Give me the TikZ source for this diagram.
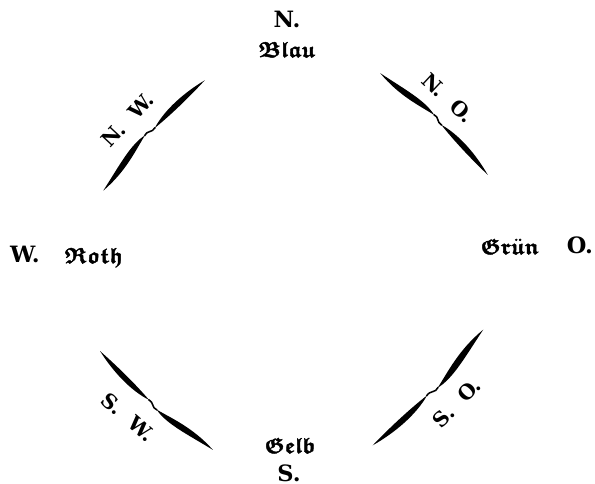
\documentclass[tikz,border=0pt]{standalone}
\usepackage{unicode-math}
\setmainfont{DejaVu Serif}
\setmathfont{latinmodern-math.otf}
\setmathfont{latinmodern-math.otf}[version=heavy,FakeBold=2]
\newcommand{\frk}[1]{$\symbffrak{#1}$}

\begin{document}
\begin{tikzpicture}[x=0.025cm,y=0.025cm,
	cardinal/.style={font=\bfseries\fontsize{16}{19}\selectfont,inner sep=0pt,anchor=base},
	farbe/.style={font=\fontsize{15.5}{19}\selectfont\mathversion{heavy},inner sep=0pt,anchor=base},
	wind/.style={font=\bfseries\fontsize{14.5}{17}\selectfont,inner sep=0pt},
	wing/.pic={
		\fill (-1,0) .. controls (-0.6,0.07) and (-0.3,0.15) .. (-0.08,0.09) .. controls (-0.3,0.05) and (-0.6,-0.05) .. (-1,0);
		\draw[line width=1.1pt] (-0.09,0.09) .. controls (-0.01,0.12) and (0.0,0.04) .. (0.09,0.06);
		\fill (0.08,0.06) .. controls (0.35,0.13) and (0.7,0.09) .. (1,0) .. controls (0.7,0.0) and (0.35,0.02) .. (0.08,0.06);
	}]
	\useasboundingbox (0,0) rectangle (595,484);
	\foreach \n/\x/\y/\a/\s in {nw/154/348.5/47.4/75,no/434/360/-43.4/74,sw/156.5/83.5/138.8/75,so/428/96.5/226.3/80} \pic (wing\n) [rotate=\a,scale=\s] at (\x,\y) {wing};
	\node[cardinal] (n) at (287,456) {N.};
	\node[farbe] (blau) at (287,427) {\frk{Blau}};
	\node[cardinal] (w) at (25,221) {W.};
	\node[farbe] (roth) at (94,221) {\frk{Roth}};
	\node[farbe] (gruen) at (510,230) {$\symbffrak{Gr}\ddot{\symbffrak{u}}\symbffrak{n}$};
	\node[cardinal] (o) at (580,230) {O.};
	\node[farbe] (gelb) at (290,31) {\frk{Gelb}};
	\node[cardinal] (s) at (289,2) {S.};
	\node[wind,rotate=47] (nwlabel) at (128,364) {N.\hskip0.7em W.};
	\node[wind,rotate=-43] (nolabel) at (448,386) {N.\hskip0.7em O.};
	\node[wind,rotate=-41] (swlabel) at (128,67) {S.\hskip0.7em W.};
	\node[wind,rotate=46] (solabel) at (457,81) {S.\hskip0.7em O.};
\end{tikzpicture}
\end{document}
